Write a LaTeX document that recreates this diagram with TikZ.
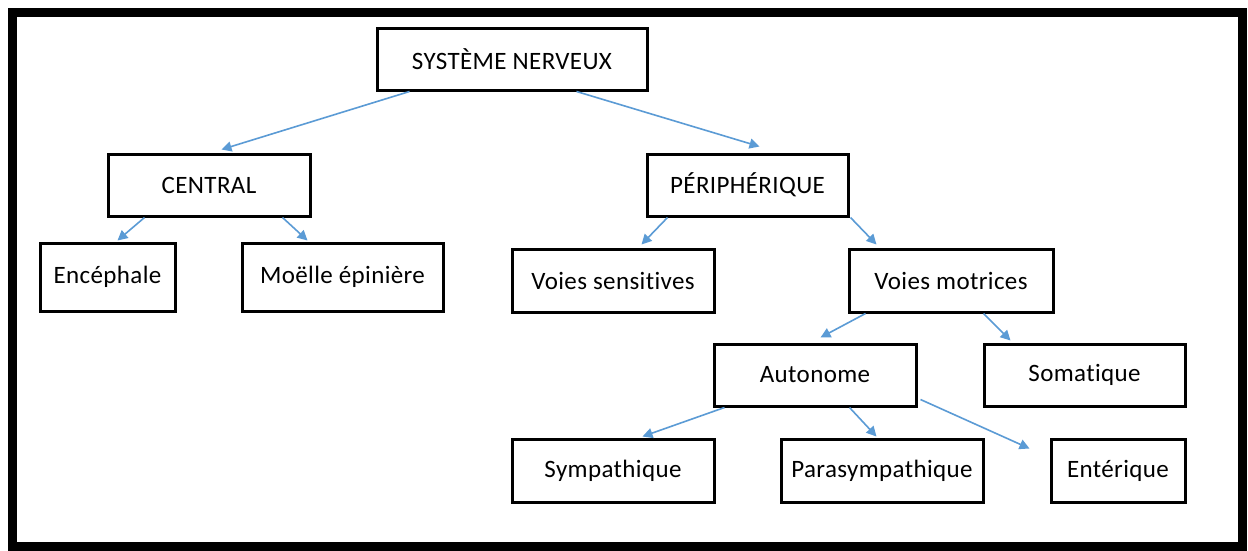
\documentclass[tikz,border=0pt]{standalone}
\usepackage{fontspec}
\setmainfont[Ligatures=NoCommon,LetterSpace=1.5]{Carlito}
\usetikzlibrary{calc,arrows.meta}
\definecolor{arrowblue}{HTML}{5B9BD5}
\tikzset{
  box/.style={draw=black, line width=3pt, rectangle, inner sep=0pt, font=\fontsize{25}{29}\selectfont, text=black},
  conn/.style={draw=arrowblue, line width=1.6pt, -{Triangle[length=10pt,width=10pt]}}
}
\begin{document}
\begin{tikzpicture}[x=1pt,y=-1pt]
\useasboundingbox (0,0) rectangle (1248,550);
\fill[white] (0,0) rectangle (1248,550);
\draw[line width=9pt] (12.5,12.5) rectangle (1242.5,546.5);

\node[box, minimum width=270pt, minimum height=62pt] (sn) at (512,59) {SYSTÈME NERVEUX};
\node[box, minimum width=202pt, minimum height=62pt] (central) at (209,185) {CENTRAL};
\node[box, minimum width=201pt, minimum height=62pt] (periph) at (747.5,185) {PÉRIPHÉRIQUE};
\node[box, minimum width=135pt, minimum height=68pt] (enc) at (107.5,277) {Encéphale};
\node[box, minimum width=201pt, minimum height=68pt] (moelle) at (342.5,277) {Moëlle épinière};
\node[box, minimum width=202pt, minimum height=63pt] (vs) at (613,280.5) {Voies sensitives};
\node[box, minimum width=204pt, minimum height=63pt] (vm) at (951,280.5) {Voies motrices};
\node[box, minimum width=202pt, minimum height=62pt] (auto) at (815,375) {Autonome};
\node[box, minimum width=201pt, minimum height=62pt] (soma) at (1084.5,375) {Somatique};
\node[box, minimum width=202pt, minimum height=63pt] (symp) at (613,470.5) {Sympathique};
\node[box, minimum width=202pt, minimum height=63pt] (para) at (882,470.5) {Parasympathique};
\node[box, minimum width=134pt, minimum height=63pt] (ent) at (1118,470.5) {Entérique};

\draw[conn] ($(sn.south west)+(34,0)$) -- ($(central.north west)+(115,-3)$);
\draw[conn] ($(sn.south west)+(201,0)$) -- ($(periph.north west)+(114,-6)$);
\draw[conn] ($(central.south west)+(38,0)$) -- ($(enc.north west)+(79,-1)$);
\draw[conn] ($(central.south west)+(176,0)$) -- ($(moelle.north west)+(67,-1)$);
\draw[conn] ($(periph.south west)+(22,0)$) -- ($(vs.north west)+(131,-3)$);
\draw[conn] ($(periph.south east)+(1,0)$) -- ($(vm.north west)+(29,-3)$);
\draw[conn] ($(vm.south west)+(18,0)$) -- ($(auto.north west)+(108,-5)$);
\draw[conn] ($(vm.south west)+(136,0)$) -- ($(soma.north west)+(28,-2)$);
\draw[conn] ($(auto.south west)+(12,0)$) -- ($(symp.north west)+(132,-1)$);
\draw[conn] ($(auto.south west)+(137,0)$) -- ($(para.north west)+(97,-1)$);
\draw[conn] ($(auto.south east)+(3,-8)$) -- ($(ent.north west)+(-20,11)$);
\end{tikzpicture}
\end{document}
